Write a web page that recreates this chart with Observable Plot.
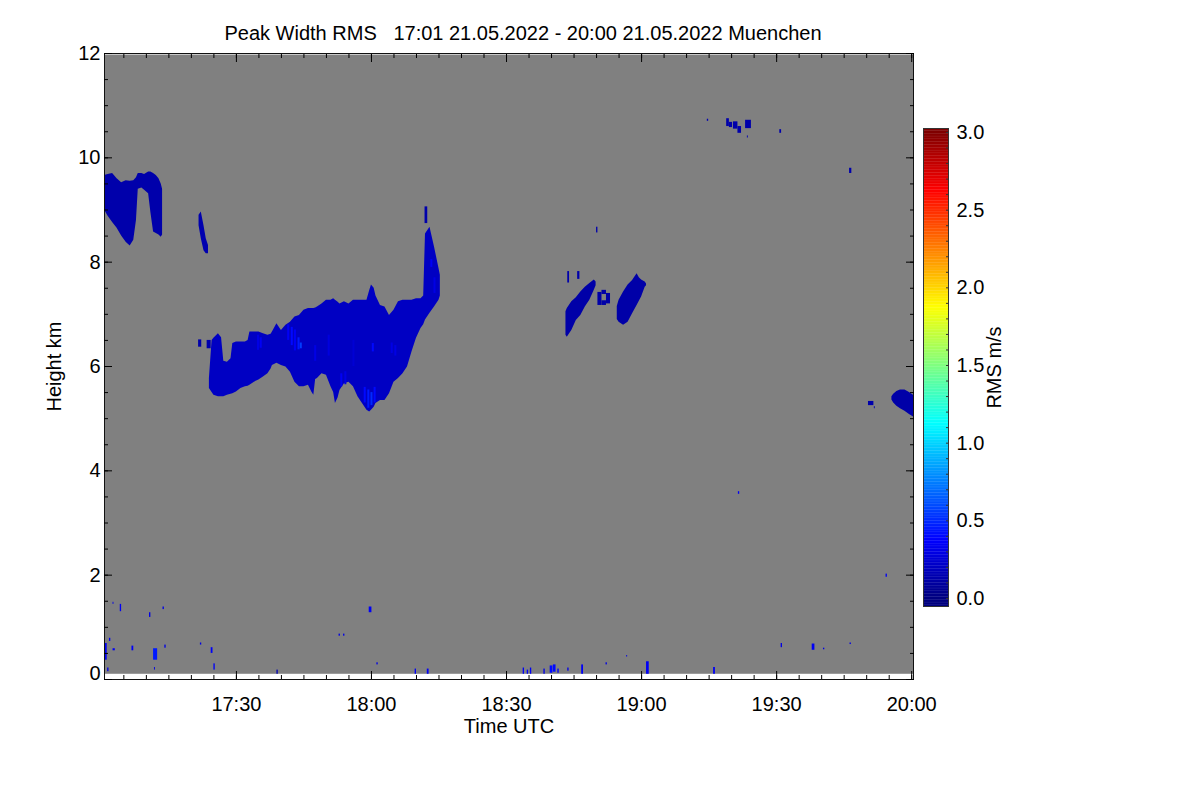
<!DOCTYPE html>
<html><head><meta charset="utf-8">
<script src="https://cdn.jsdelivr.net/npm/d3@7"></script>
<script src="https://cdn.jsdelivr.net/npm/@observablehq/plot@0.6"></script>
<style>
body{margin:0;background:#fff;font-family:"Liberation Sans",Arial,sans-serif;}
#wrap{position:relative;width:1200px;height:800px;overflow:hidden;}
#title{position:absolute;top:23px;left:0;width:1046px;text-align:center;font-size:20px;line-height:20px;white-space:pre;color:#000;}
#cb{position:absolute;left:915px;top:0;}
#main{position:absolute;left:0;top:0;}
</style></head>
<body>
<div id="wrap">
  <div id="main"></div>
  <div id="cb"></div>
  <div id="title">Peak Width RMS   17:01 21.05.2022 - 20:00 21.05.2022 Muenchen</div>
</div>
<script>
// ---------- time axis: minutes after 17:00 UTC ----------
const timeStart = 0.7, timeEnd = 180.4;
const lowestGate = 0.10, highestGate = 11.97;
const xMajorTicks = [30, 60, 90, 120, 150, 180];
const xTickLabels = ["17:30", "18:00", "18:30", "19:00", "19:30", "20:00"];
const yMajorTicks = [0, 2, 4, 6, 8, 10, 12];
const cbTicks = [0, 0.5, 1.0, 1.5, 2.0, 2.5, 3.0];

// ---------- cloud outlines (time, top km, base km) ----------
const cloud1T    = [0.7, 1.5, 2.5, 3.5, 4.5, 5.5, 6.4, 7.2, 7.8, 8.2, 9.0, 9.6, 10.5, 11.0, 11.6, 12.2, 12.8, 13.3, 13.6];
const cloud1Top  = [9.66, 9.68, 9.70, 9.60, 9.52, 9.56, 9.55, 9.56, 9.62, 9.70, 9.70, 9.68, 9.73, 9.73, 9.70, 9.66, 9.60, 9.50, 9.40];
const cloud1Base = [9.00, 8.88, 8.76, 8.65, 8.50, 8.38, 8.31, 8.42, 8.80, 9.40, 9.42, 9.38, 9.31, 8.95, 8.58, 8.55, 8.52, 8.48, 8.52];

const cloud2T    = [21.7, 22.2, 22.8, 23.3, 23.8];
const cloud2Top  = [8.90, 8.96, 8.70, 8.45, 8.32];
const cloud2Base = [8.70, 8.45, 8.22, 8.16, 8.16];

const mainT = [24.0,24.6,25,26,26.7,27.2,28,28.8,29.2,30,31,32,32.6,33,34,35,36,37,37.7,38,39,40,41,42,43,44,45,46,46.8,47.2,47.6,48,49,50,51,51.6,52,52.6,53,54,55,56,57,58,59,59.6,60,60.6,61,62,63,64,65,66,67,68,69,70,71,71.6,72,73,74,75,75.3];
const mainTop = [5.77,6.50,6.54,6.63,6.55,6.10,6.08,6.15,6.44,6.47,6.47,6.47,6.50,6.66,6.66,6.66,6.63,6.60,6.62,6.66,6.82,6.69,6.79,6.85,6.95,6.98,7.08,7.11,7.11,7.11,7.12,7.14,7.20,7.27,7.27,7.30,7.27,7.23,7.20,7.24,7.20,7.27,7.27,7.27,7.27,7.45,7.56,7.50,7.35,7.17,7.14,6.98,7.08,7.24,7.27,7.27,7.27,7.30,7.30,7.35,8.54,8.67,8.29,7.88,7.75];
const mainBase = [5.58,5.50,5.45,5.42,5.42,5.42,5.45,5.47,5.48,5.51,5.58,5.61,5.62,5.64,5.70,5.74,5.80,5.86,5.95,6.02,6.06,6.02,5.99,5.89,5.70,5.61,5.61,5.64,5.50,5.45,5.75,5.77,5.86,5.83,5.61,5.50,5.29,5.40,5.54,5.67,5.70,5.61,5.42,5.29,5.16,5.13,5.16,5.22,5.29,5.35,5.35,5.48,5.70,5.77,5.86,5.99,6.28,6.54,6.73,6.80,6.89,7.02,7.14,7.27,7.35];

const blobAT    = [103.2, 103.5, 104.5, 105.5, 106.5, 107.5, 108.5, 109.5, 109.9];
const blobATop  = [7.05, 7.11, 7.24, 7.32, 7.43, 7.52, 7.59, 7.66, 7.62];
const blobABase = [6.60, 6.56, 6.69, 6.88, 6.98, 7.14, 7.27, 7.46, 7.55];

const blobCT    = [114.6, 115, 116, 117, 118, 119, 119.5, 120, 120.8, 121.1];
const blobCTop  = [7.15, 7.27, 7.43, 7.56, 7.65, 7.78, 7.70, 7.66, 7.62, 7.58];
const blobCBase = [6.90, 6.85, 6.79, 6.85, 7.01, 7.17, 7.25, 7.33, 7.52, 7.55];

const blobDT    = [175.6, 176.0, 176.7, 177.5, 178.5, 179.5, 180.4];
const blobDTop  = [5.42, 5.47, 5.52, 5.55, 5.55, 5.50, 5.45];
const blobDBase = [5.36, 5.30, 5.24, 5.19, 5.14, 5.08, 5.03];

const cloudRms = {c1: 0.13, c2: 0.14, main: 0.2, a: 0.12, c: 0.12, d: 0.12};

// ---------- small echoes: [t0, t1, h0, h1, rms] ----------
const echoBits = [
  [21.6,22.3,6.37,6.51,0.13],[71.9,72.5,8.74,9.06,0.13],[23.5,24.4,6.34,6.50,0.14],
  [110.0,110.3,8.56,8.67,0.13],[103.6,104.0,7.60,7.82,0.13],[105.8,106.3,7.67,7.82,0.13],
  [110.3,111.2,7.17,7.42,0.12],[111.2,112.2,7.38,7.46,0.12],[111.2,112.2,7.17,7.26,0.12],[112.2,113.1,7.20,7.40,0.12],
  [134.6,134.9,10.70,10.74,0.15],[138.9,139.5,10.60,10.75,0.13],[139.5,140.2,10.58,10.68,0.13],
  [140.4,141.4,10.55,10.69,0.13],[141.4,142.2,10.47,10.60,0.13],[143.1,144.4,10.56,10.72,0.13],
  [143.5,143.7,10.38,10.42,0.15],[150.7,151.1,10.47,10.54,0.13],[166.2,166.7,9.70,9.80,0.13],
  [170.4,171.6,5.25,5.33,0.13],[171.7,171.9,5.19,5.23,0.13]
];
const groundNoise = [
  [0.8,1.3,0.37,0.69,0.35],[1.8,2.1,0.73,0.79,0.35],[1.4,1.7,0.15,0.22,0.3],[2.6,3.1,0.55,0.59,0.35],
  [2.6,2.8,1.44,1.48,0.3],[4.2,4.5,1.30,1.44,0.35],[6.8,7.2,0.55,0.64,0.35],[10.7,11.0,1.19,1.28,0.3],
  [11.6,12.5,0.37,0.59,0.45],[11.8,12.0,0.18,0.23,0.3],[13.7,14.0,1.34,1.39,0.3],[14.1,14.4,0.60,0.66,0.3],
  [22.0,22.3,0.66,0.70,0.3],[24.4,24.8,0.50,0.61,0.35],[25.0,25.3,0.18,0.30,0.35],[39.0,39.3,0.10,0.18,0.15],
  [52.8,53.1,0.83,0.87,0.3],[53.8,54.1,0.83,0.87,0.3],[59.5,60.1,1.28,1.39,0.35],[61.2,61.5,0.28,0.32,0.3],
  [69.7,70.0,0.10,0.20,0.35],[72.4,72.8,0.10,0.20,0.35],[93.7,94.0,0.10,0.22,0.35],[94.6,94.9,0.10,0.18,0.35],
  [95.3,95.6,0.10,0.22,0.35],[98.3,98.6,0.10,0.20,0.3],[99.7,100.3,0.12,0.26,0.4],[100.4,101.0,0.14,0.28,0.4],
  [101.4,101.7,0.12,0.20,0.35],[103.6,103.9,0.16,0.22,0.3],[106.7,107.1,0.10,0.28,0.35],[112.1,112.4,0.28,0.32,0.3],
  [116.7,116.9,0.43,0.46,0.3],[121.1,121.7,0.10,0.34,0.35],[136.0,136.4,0.10,0.23,0.35],[151.0,151.3,0.61,0.69,0.3],
  [157.9,158.5,0.56,0.68,0.35],[160.4,160.7,0.57,0.60,0.3],[166.3,166.6,0.67,0.70,0.3],[174.3,174.6,1.96,2.02,0.35],
  [141.5,141.8,3.55,3.60,0.35]
];
// brighter vertical streaks inside the main cloud: [t, h0, h1, rms]
const mainStreaks = [
  [34.8,6.31,6.60,0.3],[35.4,6.35,6.55,0.35],[41.5,6.50,6.80,0.35],[42.3,6.40,6.75,0.4],[43.0,6.30,6.70,0.35],
  [43.8,6.32,6.55,0.45],[44.3,6.34,6.45,0.55],[47.5,6.10,6.40,0.3],[53.3,5.61,5.86,0.35],[54.2,5.65,5.90,0.3],
  [58.5,5.30,5.60,0.4],[59.3,5.20,5.55,0.45],[60.0,5.25,5.50,0.5],[60.7,5.30,5.60,0.4],[60.3,6.28,6.44,0.4],
  [64.5,6.25,6.45,0.3],[65.3,6.20,6.40,0.3],[73.3,7.90,8.05,0.35],[74.0,7.40,7.70,0.3],[50.5,6.20,6.60,0.28],
  [56.0,6.00,6.50,0.25]
];

// ---------- build tables ----------
function cloudRows(id, t, top, base) {
  return t.map((v, i) => ({id, t: v, top: top[i], base: base[i], rms: cloudRms[id]}));
}
const clouds = [
  ...cloudRows("c1", cloud1T, cloud1Top, cloud1Base),
  ...cloudRows("c2", cloud2T, cloud2Top, cloud2Base),
  ...cloudRows("main", mainT, mainTop, mainBase),
  ...cloudRows("a", blobAT, blobATop, blobABase),
  ...cloudRows("c", blobCT, blobCTop, blobCBase),
  ...cloudRows("d", blobDT, blobDTop, blobDBase)
];
const bits = [...echoBits, ...groundNoise].map(([t0, t1, h0, h1, rms]) => ({t0, t1, h0, h1, rms}));
const streaks = mainStreaks.map(([t, h0, h1, rms]) => ({t, h0, h1, rms}));
const gateBox = [{t0: timeStart, t1: timeEnd, h0: lowestGate, h1: highestGate}];

// classic jet colormap
const jetScale = d3.scaleLinear()
  .domain([0, 0.125, 0.375, 0.625, 0.875, 1])
  .range(["#00007f", "#0000ff", "#00ffff", "#ffff00", "#ff0000", "#7f0000"])
  .clamp(true);
const jet = t => jetScale(Math.max(0, Math.min(1, t)));
const colorScale = {type: "linear", domain: [0, 3], interpolate: jet, clamp: true};

const fontStyle = {fontFamily: "'Liberation Sans', Arial, sans-serif", fontSize: "20px", color: "black", background: "white", overflow: "visible"};
const xMinor = d3.range(5, 181, 5);
const yMinor = d3.range(0, 12.01, 0.5);
const tickOnly = {fill: "none", tickFormat: () => "", label: null};

const mainPlot = Plot.plot({
  width: 1200, height: 800,
  marginLeft: 104, marginRight: 287, marginTop: 53, marginBottom: 121,
  x: {domain: [timeStart, timeEnd]},
  y: {domain: [0, 12]},
  color: colorScale,
  style: fontStyle,
  marks: [
    Plot.rect(gateBox, {x1: "t0", x2: "t1", y1: "h0", y2: "h1", fill: "#808080"}),
    Plot.areaY(clouds, {x: "t", y1: "base", y2: "top", z: "id", fill: "rms", curve: "linear"}),
    Plot.ruleX(streaks, {x: "t", y1: "h0", y2: "h1", stroke: "rms", strokeWidth: 2}),
    Plot.rect(bits, {x1: "t0", x2: "t1", y1: "h0", y2: "h1", fill: "rms"}),
    Plot.frame({stroke: "#111"}),
    Plot.axisX(xMajorTicks, {anchor: "bottom", tickSize: 0, tickPadding: 17,
      tickFormat: d => xTickLabels[xMajorTicks.indexOf(d)],
      label: "Time UTC", labelAnchor: "center", labelArrow: "none", labelOffset: 53}),
    Plot.axisY(yMajorTicks.filter(d => d > 0), {anchor: "left", tickSize: 0, tickPadding: 4, tickFormat: d => String(d),
      label: "Height km", labelAnchor: "center", labelArrow: "none", labelOffset: 58}),
    Plot.axisY(yMajorTicks.filter(d => d === 0), {anchor: "left", tickSize: 0, tickPadding: 4, dy: -6,
      tickFormat: d => String(d), label: null}),
    Plot.axisX(xMajorTicks, {anchor: "bottom", tickSize: -8, ...tickOnly}),
    Plot.axisX(xMinor, {anchor: "bottom", tickSize: -4, ...tickOnly}),
    Plot.axisX(xMajorTicks, {anchor: "top", tickSize: -8, ...tickOnly}),
    Plot.axisX(xMinor, {anchor: "top", tickSize: -4, ...tickOnly}),
    Plot.axisY(yMajorTicks, {anchor: "left", tickSize: -8, ...tickOnly}),
    Plot.axisY(yMinor, {anchor: "left", tickSize: -4, ...tickOnly}),
    Plot.axisY(yMajorTicks, {anchor: "right", tickSize: -8, ...tickOnly}),
    Plot.axisY(yMinor, {anchor: "right", tickSize: -4, ...tickOnly})
  ]
});
document.getElementById("main").appendChild(mainPlot);

// ---------- colour bar ----------
const cbLow = -0.0515, cbHigh = 3.0258, cbStep = 0.01;
const cbValues = d3.range(cbLow, cbHigh, cbStep);
const cbPlot = Plot.plot({
  width: 135, height: 800,
  marginLeft: 8, marginRight: 102, marginTop: 128, marginBottom: 194,
  x: {domain: [0, 1], axis: null},
  y: {domain: [cbLow, cbHigh]},
  color: colorScale,
  style: {...fontStyle, background: "transparent"},
  marks: [
    Plot.rect(cbValues, {x1: () => 0, x2: () => 1, y1: d => d, y2: d => Math.min(cbHigh, d + cbStep * 1.2), fill: d => d + cbStep / 2}),
    Plot.frame({stroke: "#333"}),
    Plot.axisY(cbTicks, {anchor: "right", tickSize: 0, tickPadding: 8, tickFormat: d3.format(".1f"),
      label: "RMS m/s", labelAnchor: "center", labelArrow: "none", labelOffset: 52}),
    Plot.axisY(d3.range(0, 3.01, 0.1), {anchor: "right", tickSize: -3, ...tickOnly, stroke: "#333"})
  ]
});
document.getElementById("cb").appendChild(cbPlot);
</script>
</body></html>
